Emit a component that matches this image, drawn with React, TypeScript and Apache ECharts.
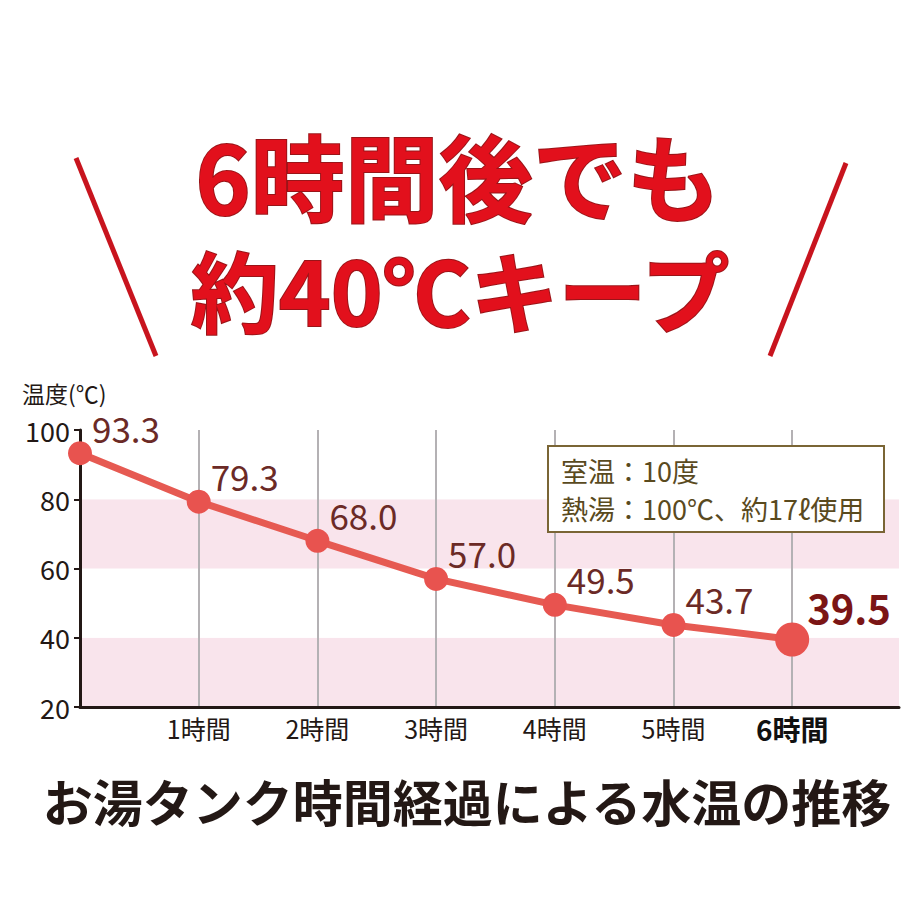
import React, { useEffect, useRef } from "react";
import * as echarts from "echarts";

const hours = [0, 1, 2, 3, 4, 5, 6];
const temps = [93.3, 79.3, 68.0, 57.0, 49.5, 43.7, 39.5];
const hourUnit = "時間";
const titleLine1 = "6時間後でも";
const titleLine2 = "約40℃キープ";
const yAxisName = "温度(℃)";
const noteLines = ["室温：10度", "熱湯：100℃、約17ℓ使用"];
const bottomTitle = "お湯タンク時間経過による水温の推移";

const FONT = '"Noto Sans CJK JP", "Noto Sans", sans-serif';

export default function App() {
  const ref = useRef<HTMLDivElement>(null);
  useEffect(() => {
    document.body.style.margin = "0";
    if (!ref.current) return;
    const chart = echarts.init(ref.current, undefined, { renderer: "svg" });
    const last = hours.length - 1;
    const data = hours.map((h, i) => {
      if (i === last) {
        return {
          value: [h, temps[i]],
          symbolSize: 34,
          label: {
            position: [32, -15],
            fontSize: 40,
            fontWeight: "bold",
            color: "#7b1515",
          },
        };
      }
      return { value: [h, temps[i]] };
    });
    chart.setOption({
      animation: false,
      backgroundColor: "#ffffff",
      textStyle: { fontFamily: FONT },
      grid: { left: 80, right: 21, top: 430, bottom: 213 },
      xAxis: {
        type: "value",
        min: 0,
        max: 6.9,
        interval: 1,
        axisLine: { show: true, onZero: false, lineStyle: { color: "#231815", width: 3 } },
        axisTick: { show: false },
        splitLine: {
          show: true,
          showMinLine: false,
          showMaxLine: false,
          lineStyle: { color: "#b4b1b4", width: 2 },
        },
        axisLabel: {
          margin: 8,
          fontSize: 25,
          color: "#231815",
          fontFamily: FONT,
          formatter: (v: number) => {
            if (v === 0 || Math.round(v) !== v) return "";
            if (v === 6) return "{b|" + v + hourUnit + "}";
            return v + hourUnit;
          },
          rich: {
            b: { fontSize: 28, fontWeight: "bold", color: "#111111", fontFamily: FONT },
          },
        },
      },
      yAxis: {
        type: "value",
        min: 20,
        max: 100,
        interval: 20,
        axisLine: { show: true, lineStyle: { color: "#231815", width: 3 } },
        axisTick: { show: true, length: 6, lineStyle: { color: "#231815", width: 2 } },
        splitLine: { show: false },
        splitArea: { show: true, areaStyle: { color: ["#f9e4ec", "#ffffff"] } },
        axisLabel: { margin: 10, fontSize: 27, color: "#231815", fontFamily: FONT },
      },
      graphic: [
        {
          type: "line",
          shape: { x1: 76, y1: 158, x2: 156, y2: 356 },
          style: { stroke: "#c8141e", lineWidth: 5 },
        },
        {
          type: "line",
          shape: { x1: 846, y1: 163, x2: 770, y2: 356 },
          style: { stroke: "#c8141e", lineWidth: 5 },
        },
        {
          type: "text",
          x: 458,
          y: 174,
          style: {
            text: titleLine1,
            fontSize: 94,
            fontWeight: "bold",
            fontFamily: FONT,
            fill: "#e2101c",
            stroke: "#9a1418",
            lineWidth: 2,
            align: "center",
            verticalAlign: "middle",
          },
        },
        {
          type: "text",
          x: 460,
          y: 287,
          style: {
            text: titleLine2,
            fontSize: 88,
            fontWeight: "bold",
            fontFamily: FONT,
            fill: "#e2101c",
            stroke: "#9a1418",
            lineWidth: 2,
            align: "center",
            verticalAlign: "middle",
          },
        },
        {
          type: "text",
          x: 22,
          y: 393,
          style: {
            text: yAxisName,
            fontSize: 23,
            fontFamily: FONT,
            fill: "#231815",
            align: "left",
            verticalAlign: "middle",
          },
        },
        {
          type: "rect",
          shape: { x: 548, y: 446, width: 336, height: 86 },
          style: { fill: "#ffffff", stroke: "#7a6535", lineWidth: 2 },
          z: 100,
        },
        {
          type: "text",
          x: 561,
          y: 470,
          z: 101,
          style: {
            text: noteLines[0],
            fontSize: 27,
            fontFamily: FONT,
            fill: "#5a4a1e",
            align: "left",
            verticalAlign: "middle",
          },
        },
        {
          type: "text",
          x: 561,
          y: 508,
          z: 101,
          style: {
            text: noteLines[1],
            fontSize: 27,
            fontFamily: FONT,
            fill: "#5a4a1e",
            align: "left",
            verticalAlign: "middle",
          },
        },
        {
          type: "text",
          x: 467,
          y: 800,
          style: {
            text: bottomTitle,
            fontSize: 50,
            fontWeight: "bold",
            fontFamily: FONT,
            fill: "#231815",
            align: "center",
            verticalAlign: "middle",
          },
        },
      ],
      series: [
        {
          type: "line",
          data,
          symbol: "circle",
          symbolSize: 24,
          itemStyle: { color: "#e8534f" },
          lineStyle: { color: "#e65a52", width: 7 },
          z: 5,
          label: {
            show: true,
            position: [24, -14],
            align: "left",
            verticalAlign: "middle",
            fontSize: 35,
            color: "#6b2a26",
            fontFamily: FONT,
            formatter: (p: any) => Number(p.value[1]).toFixed(1),
          },
        },
      ],
    });
    return () => chart.dispose();
  }, []);
  return <div ref={ref} style={{ width: 920, height: 920 }} />;
}
